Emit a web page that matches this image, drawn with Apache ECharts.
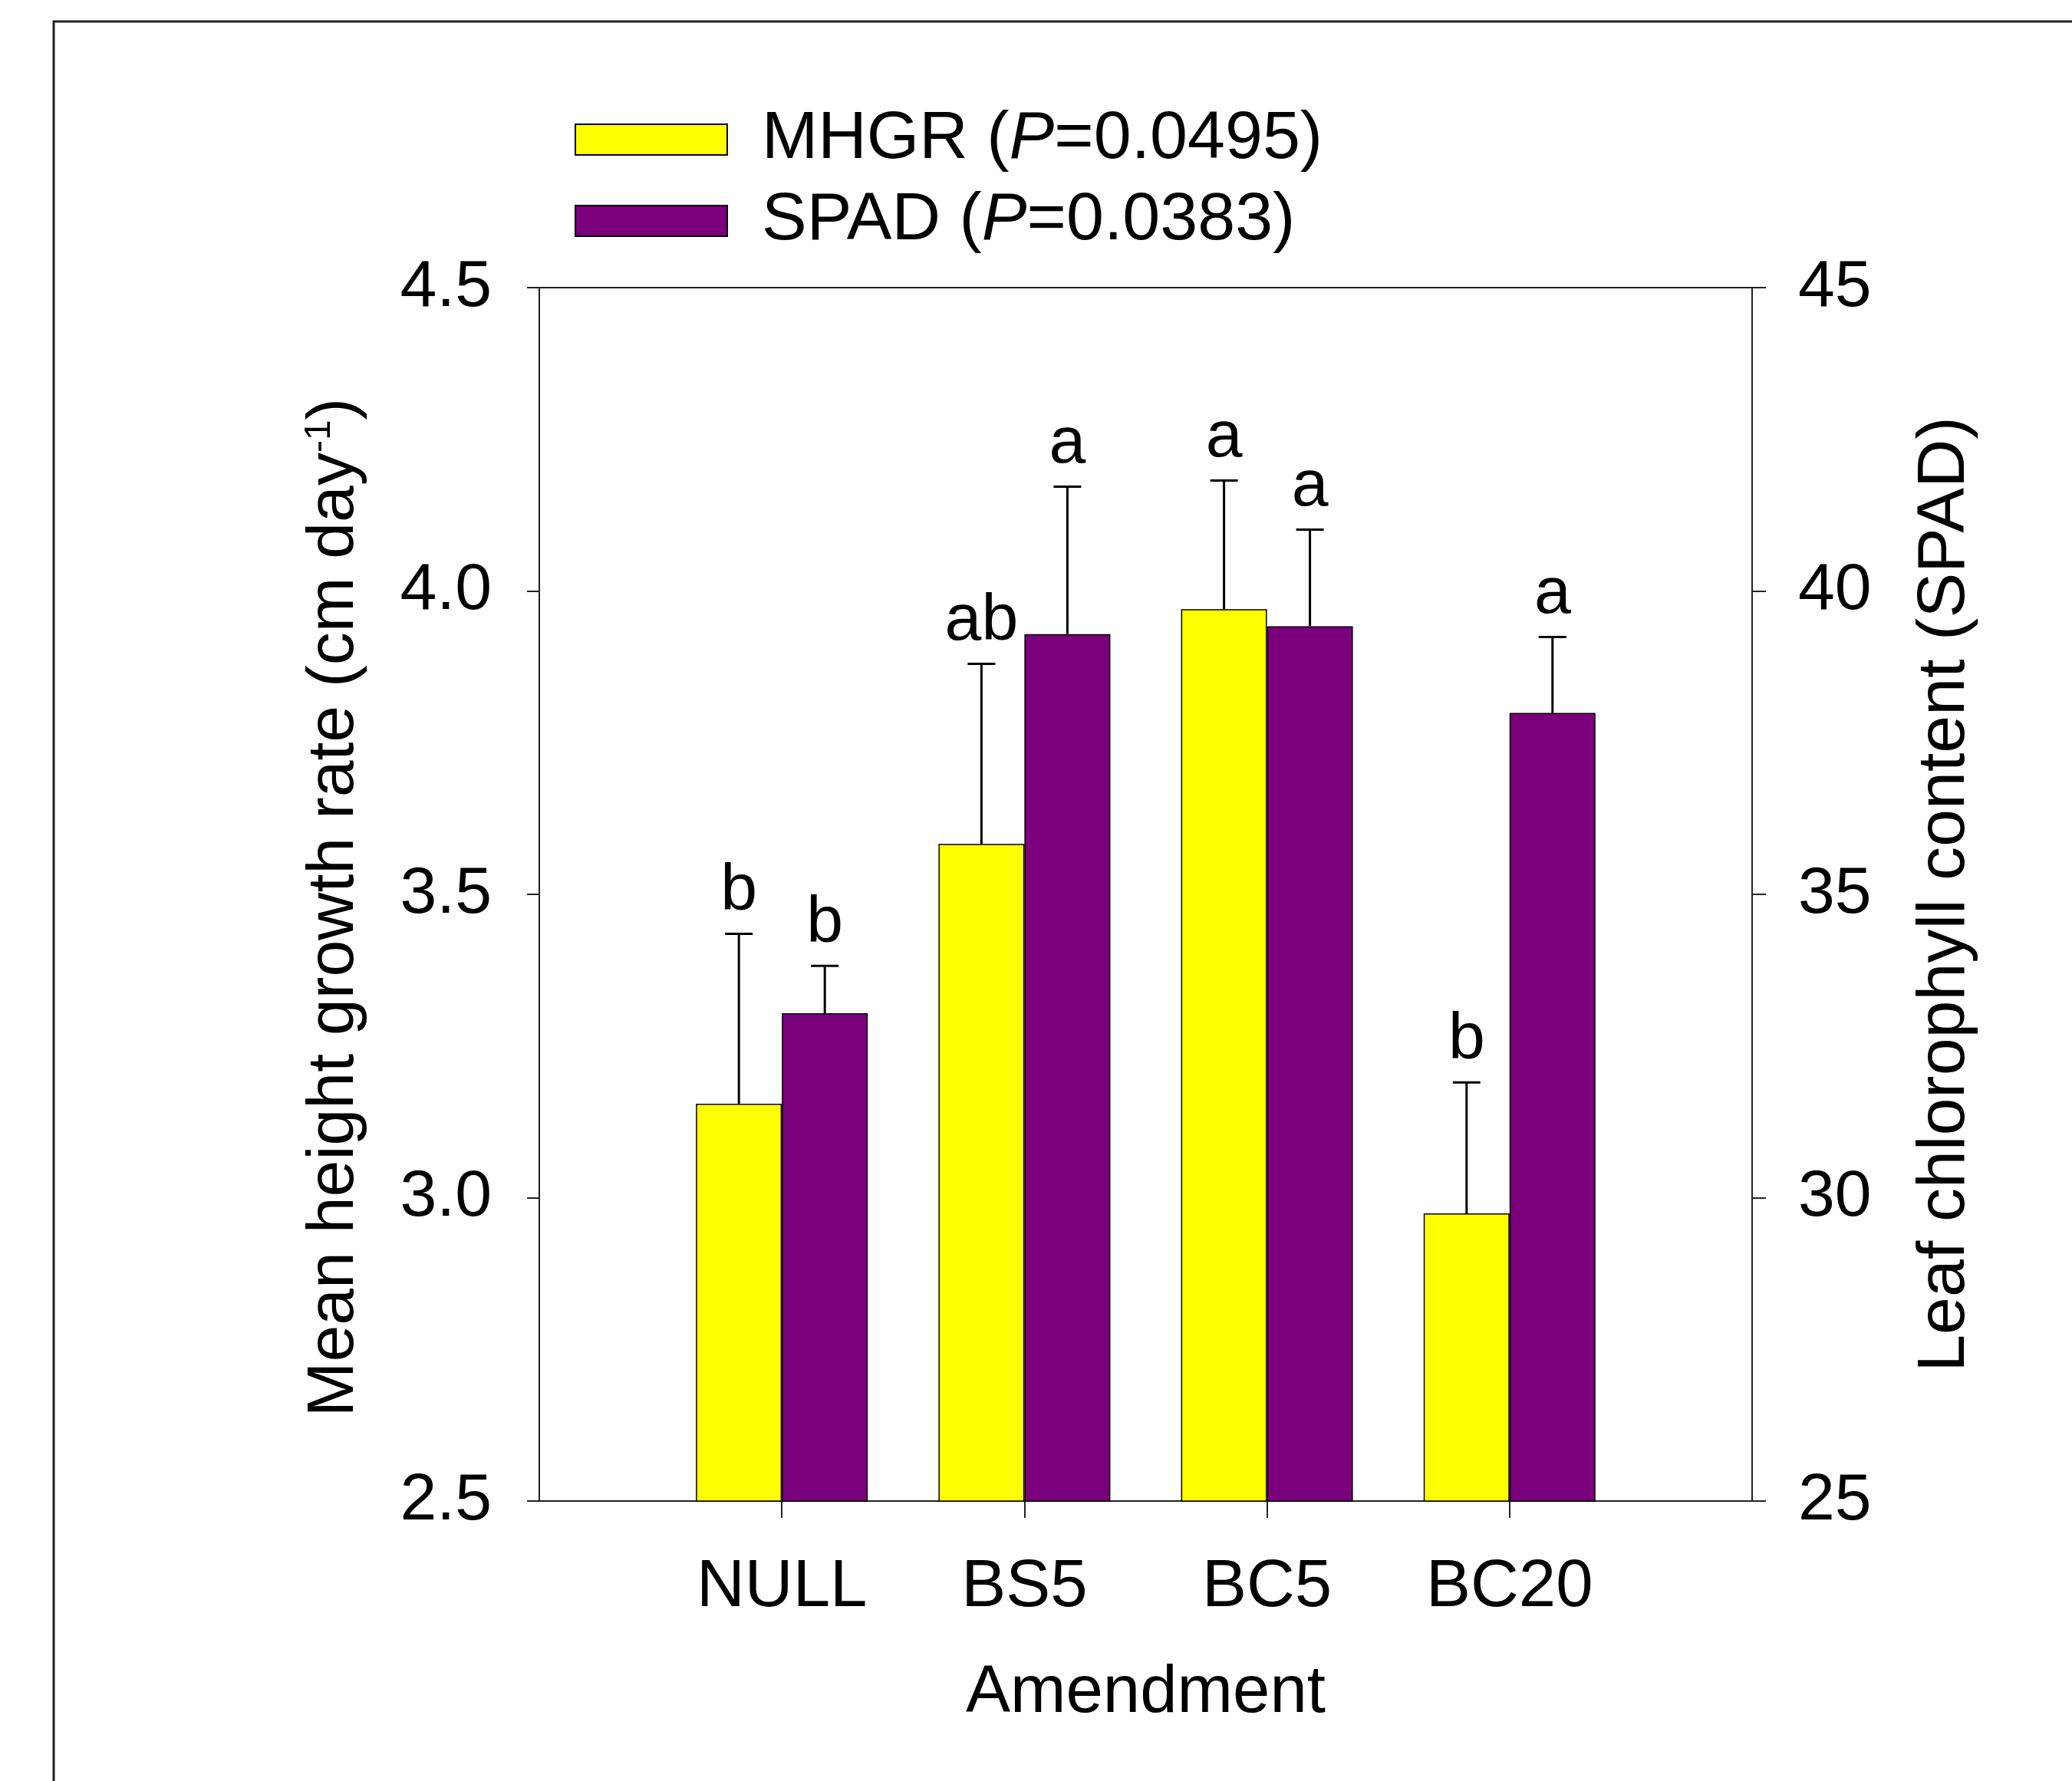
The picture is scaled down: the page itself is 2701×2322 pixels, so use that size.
<!DOCTYPE html>
<html>
<head>
<meta charset="utf-8">
<script src="https://cdn.jsdelivr.net/npm/echarts@6/dist/echarts.min.js"></script>
<style>
html,body{margin:0;padding:0;background:#fff;}
#chart{width:2701px;height:2322px;}
</style>
</head>
<body>
<div id="chart"></div>
<script>
// ---- data ----
const categories = ['NULL', 'BS5', 'BC5', 'BC20'];
const mhgrName = 'MHGR (P=0.0495)';
const spadName = 'SPAD (P=0.0383)';
const mhgrValues = [3.155, 3.583, 3.970, 2.974];
const mhgrErrors = [0.280, 0.297, 0.212, 0.216];
const mhgrLetters = ['b', 'ab', 'a', 'b'];
const spadValues = [33.04, 39.29, 39.42, 37.99];
const spadErrors = [0.78, 2.43, 1.59, 1.25];
const spadLetters = ['b', 'a', 'a', 'a'];
const leftTicks = [2.5, 3.0, 3.5, 4.0, 4.5];
const rightTicks = [25, 30, 35, 40, 45];

const FONT = '"Liberation Sans", Arial, sans-serif';
const FS = 86;
const BAR_W = 112;

// padded axis: empty slots at both ends so groups sit at positions 1..4 of 0..5
const axisData = [''].concat(categories, ['']);
const pad = arr => [null].concat(arr, [null]);

function errData(vals, errs, letters) {
  return vals.map((v, i) => [i + 1, v, errs[i], letters[i]]);
}

function makeErrRender(offset) {
  return function (params, api) {
    const idx = api.value(0), v = api.value(1), e = api.value(2);
    const letter = api.value(3);
    const base = api.coord([idx, v]);
    const top = api.coord([idx, v + e]);
    const x = base[0] + offset;
    return {
      type: 'group',
      children: [
        { type: 'line', shape: { x1: x, y1: base[1], x2: x, y2: top[1] },
          style: { stroke: '#000', lineWidth: 3 } },
        { type: 'line', shape: { x1: x - 18, y1: top[1], x2: x + 18, y2: top[1] },
          style: { stroke: '#000', lineWidth: 3 } },
        { type: 'text', x: x, y: top[1] - 12,
          style: { text: letter, fill: '#000', font: '86px ' + FONT,
                   align: 'center', verticalAlign: 'bottom' } }
      ]
    };
  };
}

const chart = echarts.init(document.getElementById('chart'), null, { renderer: 'canvas' });

const option = {
  backgroundColor: '#fff',
  animation: false,
  textStyle: { fontFamily: FONT },
  graphic: [
    { type: 'polyline', shape: { points: [[70, 2322], [70, 28], [2701, 28]] },
      style: { stroke: '#222', lineWidth: 3, fill: null }, z: 100 }
  ],
  legend: {
    orient: 'vertical',
    left: 744,
    top: 133,
    itemWidth: 198,
    itemHeight: 40,
    itemGap: 18,
    icon: 'rect',
    data: [mhgrName, spadName],
    formatter: function (n) {
      const m = n.match(/^(.*\()P(=.*)$/);
      return '{g|}{n|' + m[1] + '}{i|P}{n|' + m[2] + '}';
    },
    textStyle: {
      color: '#000',
      fontFamily: FONT,
      fontSize: 88,
      rich: {
        g: { width: 40 },
        n: { fontSize: 88, fontFamily: FONT, color: '#000', lineHeight: 86 },
        i: { fontSize: 88, fontFamily: FONT, color: '#000', fontStyle: 'italic', lineHeight: 86 }
      }
    }
  },
  grid: {
    left: 703, right: 417, top: 375, bottom: 365,
    show: true, borderColor: '#222', borderWidth: 2, containLabel: false
  },
  xAxis: {
    type: 'category',
    data: axisData,
    boundaryGap: false,
    name: 'Amendment',
    nameLocation: 'middle',
    nameGap: 208,
    nameTextStyle: { fontSize: 87, color: '#000', fontFamily: FONT },
    axisLine: { lineStyle: { color: '#222', width: 2 } },
    axisTick: {
      length: 22,
      lineStyle: { color: '#222', width: 2 },
      interval: function (i) { return i > 0 && i < axisData.length - 1; }
    },
    axisLabel: {
      interval: 0,
      margin: 70,
      fontSize: 87,
      color: '#000',
      fontFamily: FONT
    },
    splitLine: { show: false }
  },
  yAxis: [
    {
      type: 'value',
      min: leftTicks[0],
      max: leftTicks[leftTicks.length - 1],
      interval: 0.5,
      position: 'left',
      name: 'Mean height growth rate (cm day{sup|-1})',
      nameLocation: 'middle',
      nameRotate: 90,
      nameGap: 224,
      nameTextStyle: {
        fontSize: FS, color: '#000', fontFamily: FONT,
        padding: [0, 34, 0, 0],
        rich: {
          sup: { fontSize: 48, fontFamily: FONT, color: '#000', verticalAlign: 'top', lineHeight: 48 }
        }
      },
      axisLine: { show: true, lineStyle: { color: '#222', width: 2 } },
      axisTick: { show: true, length: 16, lineStyle: { color: '#222', width: 2 } },
      axisLabel: {
        margin: 62, fontSize: FS, color: '#000', fontFamily: FONT,
        formatter: v => v.toFixed(1)
      },
      splitLine: { show: false }
    },
    {
      type: 'value',
      min: rightTicks[0],
      max: rightTicks[rightTicks.length - 1],
      interval: 5,
      position: 'right',
      name: 'Leaf chlorophyll content (SPAD)',
      nameLocation: 'middle',
      nameRotate: 90,
      nameGap: 208,
      nameTextStyle: { fontSize: 88, color: '#000', fontFamily: FONT },
      axisLine: { show: true, lineStyle: { color: '#222', width: 2 } },
      axisTick: { show: true, length: 18, lineStyle: { color: '#222', width: 2 } },
      axisLabel: { margin: 60, fontSize: FS, color: '#000', fontFamily: FONT },
      splitLine: { show: false }
    }
  ],
  series: [
    {
      name: mhgrName,
      type: 'bar',
      yAxisIndex: 0,
      data: pad(mhgrValues),
      barWidth: BAR_W,
      barGap: '0%',
      itemStyle: { color: '#FFFF00', borderColor: '#000', borderWidth: 1.5 }
    },
    {
      name: spadName,
      type: 'bar',
      yAxisIndex: 1,
      data: pad(spadValues),
      barWidth: BAR_W,
      barGap: '0%',
      itemStyle: { color: '#7B007B', borderColor: '#000', borderWidth: 1.5 }
    },
    {
      type: 'custom',
      yAxisIndex: 0,
      z: 5,
      renderItem: makeErrRender(-BAR_W / 2),
      encode: { x: 0, y: 1 },
      data: errData(mhgrValues, mhgrErrors, mhgrLetters)
    },
    {
      type: 'custom',
      yAxisIndex: 1,
      z: 5,
      renderItem: makeErrRender(BAR_W / 2),
      encode: { x: 0, y: 1 },
      data: errData(spadValues, spadErrors, spadLetters)
    }
  ]
};

chart.setOption(option);
</script>
</body>
</html>
